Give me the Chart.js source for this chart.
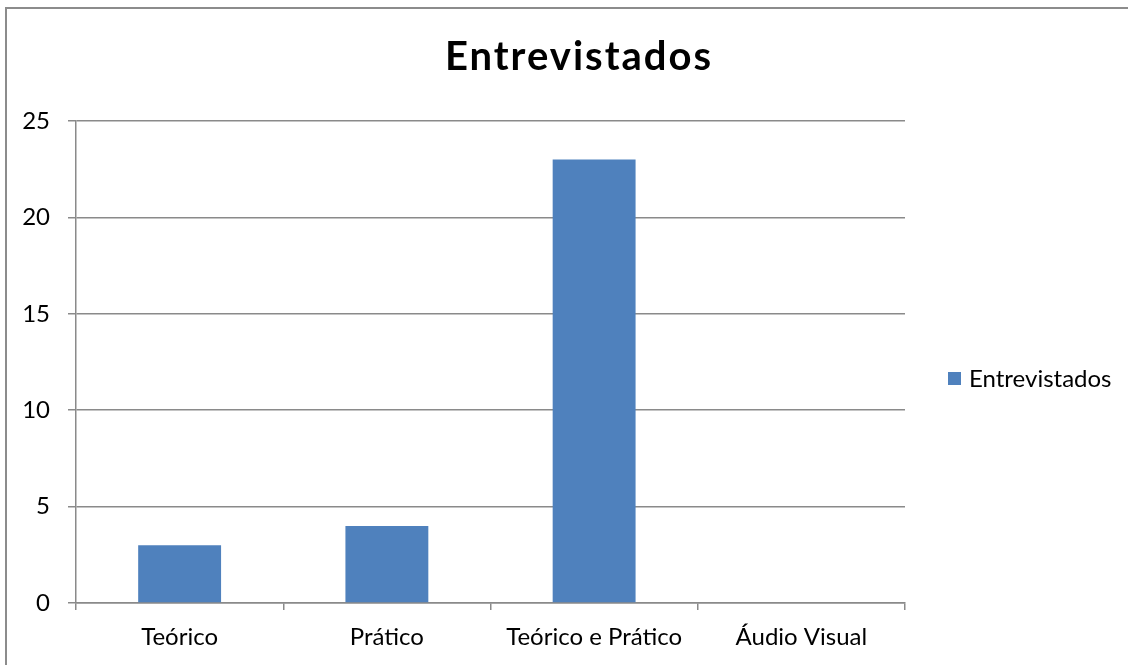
<!DOCTYPE html>
<html>
<head>
<meta charset="utf-8">
<script src="https://cdn.jsdelivr.net/npm/chart.js@4"></script>
<style>
  html, body { margin: 0; padding: 0; background: #fff; overflow: hidden; }
  #wrap { position: relative; width: 1128px; height: 665px; overflow: hidden; }
  #frame { position: absolute; left: 5px; top: 7px; width: 1200px; height: 700px;
           border-left: 2px solid #8c8c8c; border-top: 2px solid #8c8c8c; pointer-events: none; }
</style>
</head>
<body>
<div id="wrap">
  <canvas id="chart" width="1128" height="665"></canvas>
  <div id="frame"></div>
</div>
<script>
// categories along the x-axis
const categories = ['Teórico', 'Prático', 'Teórico e Prático', 'Áudio Visual'];
// number of people interviewed
const entrevistados = [3, 4, 23, 0];
const seriesName = 'Entrevistados';
const yTicks = [0, 5, 10, 15, 20, 25];

const gridColor = '#8a8a8a';
const barColor = '#4f81bd';
const font = "Lato, 'Open Sans', sans-serif";

// title and legend drawn by hand, like the original layout
const decorations = {
  id: 'decorations',
  afterDraw(chart) {
    const ctx = chart.ctx;
    ctx.save();
    // title
    ctx.fillStyle = '#000';
    ctx.font = 'bold 40px ' + font;
    ctx.letterSpacing = '2px';
    ctx.textAlign = 'center';
    ctx.textBaseline = 'alphabetic';
    ctx.fillText(seriesName, 579, 70);
    ctx.letterSpacing = '0px';
    // legend
    ctx.fillStyle = barColor;
    ctx.fillRect(948, 372, 13, 13);
    ctx.fillStyle = '#000';
    ctx.font = '24px ' + font;
    ctx.textAlign = 'left';
    ctx.textBaseline = 'middle';
    ctx.fillText(seriesName, 969, 379);
    ctx.restore();
  }
};

const ctx = document.getElementById('chart');
new Chart(ctx, {
  type: 'bar',
  data: {
    labels: categories,
    datasets: [{
      label: seriesName,
      data: entrevistados,
      backgroundColor: barColor,
      barPercentage: 0.4,
      categoryPercentage: 1
    }]
  },
  options: {
    responsive: false,
    animation: false,
    layout: { padding: { left: 0, top: 121, right: 223, bottom: 0 } },
    plugins: {
      legend: { display: false },
      tooltip: { enabled: false },
      title: { display: false }
    },
    scales: {
      x: {
        afterFit(s) { s.height = 62; },
        grid: {
          offset: true,
          drawOnChartArea: false,
          color: gridColor,
          lineWidth: 1.5,
          tickLength: 7
        },
        border: { color: gridColor, width: 1.5 },
        ticks: { color: '#000', font: { family: font, size: 24 }, padding: 13, maxRotation: 0 }
      },
      y: {
        min: 0,
        max: 25,
        afterFit(s) { s.width = 76; },
        afterBuildTicks(s) { s.ticks = yTicks.map(v => ({ value: v })); },
        grid: { color: gridColor, lineWidth: 1.5, tickLength: 8 },
        border: { color: gridColor, width: 1.5 },
        ticks: { color: '#000', font: { family: font, size: 24 }, padding: 18 }
      }
    }
  },
  plugins: [decorations]
});
</script>
</body>
</html>
